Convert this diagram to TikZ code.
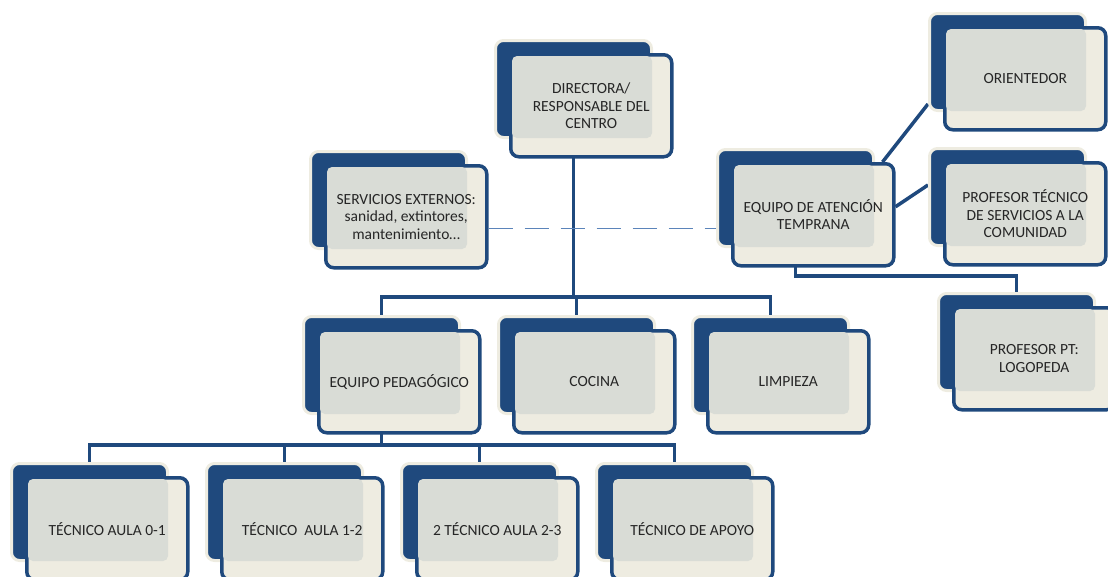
\documentclass[tikz,border=0pt]{standalone}
\usepackage{fontspec}
\setmainfont{Carlito}
\usepackage{tikz}
\usetikzlibrary{positioning, calc, backgrounds}
\definecolor{orgblue}{HTML}{1F497D}
\definecolor{orgcream}{HTML}{EEECE1}
\definecolor{orggrey}{HTML}{D9DCD6}
\definecolor{dashblue}{HTML}{5B84BA}
\tikzstyle{backbox} = [rectangle, rounded corners=8pt, anchor=north west, minimum width=156pt, minimum height=97pt, inner sep=0pt, fill=orgblue, draw=orgcream, line width=3pt]
\tikzstyle{frontbox} = [rectangle, rounded corners=8pt, anchor=north west, minimum width=161pt, minimum height=102pt, inner sep=0pt, fill=orgcream, draw=orgblue, line width=3.5pt]
\tikzstyle{overlap} = [fill=orggrey, rounded corners=5pt]
\tikzstyle{boxtext} = [align=center, text=black!85, font=\fontsize{15.5}{17.5}\selectfont]
\tikzstyle{conn} = [draw=orgblue, line width=3.5pt]
\tikzstyle{dashline} = [draw=dashblue, line width=1.4pt, dash pattern=on 24pt off 12pt]
% back card, front card, shaded overlap, text
\newcommand{\orgbox}[4]{%
  \node[backbox] (#1-b) at (#2,#3) {};
  \node[frontbox] (#1) at ($(#1-b.north west)+(15,14)$) {};
  \fill[overlap] ([shift={(3pt,-3pt)}]#1.north west) rectangle ([shift={(-1pt,1pt)}]#1-b.south east);
  \node[boxtext] (#1-t) at (#1.center) {#4};
}

\begin{document}
\begin{tikzpicture}[x=1pt, y=-1pt]
    \useasboundingbox (0,0) rectangle (1108,576);

    % Direction
    \orgbox{dir}{494}{39}{DIRECTORA/\\RESPONSABLE DEL\\CENTRO}

    % External services and early care team
    \orgbox{serv}{309}{150}{SERVICIOS EXTERNOS:\\sanidad, extintores,\\mantenimiento\ldots}
    \orgbox{eat}{716}{148}{EQUIPO DE ATENCIÓN\\TEMPRANA}
    \orgbox{ori}{928}{12}{ORIENTEDOR}
    \orgbox{ptsc}{928}{147}{PROFESOR TÉCNICO\\DE SERVICIOS A LA\\COMUNIDAD}
    \orgbox{logo}{937}{292}{PROFESOR PT:\\LOGOPEDA}

    % Middle row
    \orgbox{ped}{302}{315}{EQUIPO PEDAGÓGICO}
    \orgbox{coc}{497}{315}{COCINA}
    \orgbox{lim}{691}{315}{LIMPIEZA}

    % Bottom row
    \orgbox{t01}{10}{462}{TÉCNICO AULA 0-1}
    \orgbox{t12}{205}{462}{TÉCNICO\ \ AULA 1-2}
    \orgbox{t23}{400}{462}{2 TÉCNICO AULA 2-3}
    \orgbox{apo}{595}{462}{TÉCNICO DE APOYO}

    % Connectors
    \begin{scope}[on background layer]
        \coordinate (bus1) at ($(dir-b.center |- 0,297)$);
        \coordinate (bus2) at ($(ped-b.center |- 0,445)$);
        \coordinate (bus3) at ($(eat-b.center |- 0,276)$);
        \draw [conn] (dir-b.center) -- (bus1);
        \foreach \n in {ped, coc, lim}
            \draw [conn] (bus1) -| (\n-b.center);
        \draw [conn] (ped-b.center) -- (bus2);
        \foreach \n in {t01, t12, t23, apo}
            \draw [conn] (bus2) -| (\n-b.center);
        \draw [conn] ([xshift=-13pt]eat.north east) -- ([yshift=8pt]ori-b.south west);
        \draw [conn] ([yshift=8pt]eat.east) -- ([yshift=12pt]ptsc-b.west);
        \draw [conn] (eat-b.center) -- (bus3) -| (logo-b.center);
        \draw [dashline] ([yshift=-12pt]serv.east) -- ([yshift=-12pt]serv.east -| eat-b.west);
    \end{scope}
\end{tikzpicture}
\end{document}
